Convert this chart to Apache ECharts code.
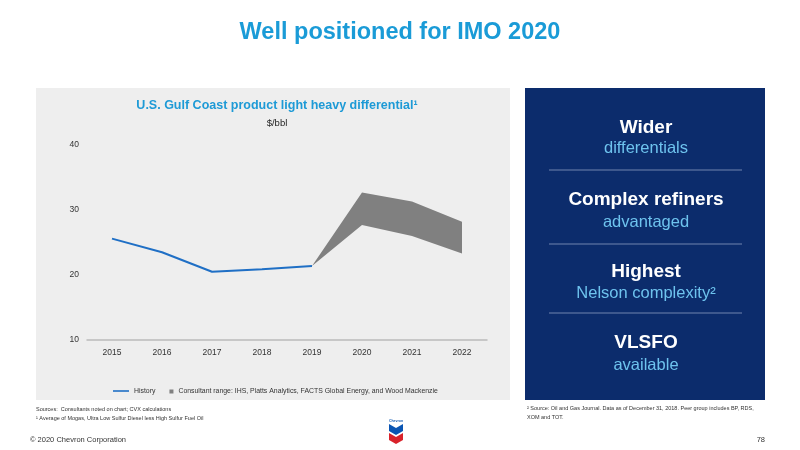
<!DOCTYPE html>
<html><head><meta charset="utf-8">
<script src="https://cdn.jsdelivr.net/npm/echarts@6/dist/echarts.min.js"></script>
<style>html,body{margin:0;padding:0;background:#fff}#c{width:800px;height:450px}</style>
</head><body><div id="c"></div>
<script>
const years = ['2015','2016','2017','2018','2019','2020','2021','2022'];
const history = [25.6, 23.5, 20.5, 20.9, 21.4, null, null, null];
const rangeLow = [null, null, null, null, 21.4, 27.7, 26.0, 23.3];
const rangeHigh = [null, null, null, null, 21.4, 32.7, 31.3, 28.2];
const yTicks = [10, 20, 30, 40];

const rangeDiff = rangeHigh.map((v, i) => v == null ? null : +(v - rangeLow[i]).toFixed(2));
const font = 'Arial, "Liberation Sans", sans-serif';
const navy = '#0c2c6c';
const lightBlue = '#6ec3ee';

const panelItems = [
  ['Wider', 'differentials', 128, 148],
  ['Complex refiners', 'advantaged', 200, 222],
  ['Highest', 'Nelson complexity²', 272, 293],
  ['VLSFO', 'available', 343, 365]
];
const graphics = [
  {type:'rect', shape:{x:36,y:88,width:474,height:312}, style:{fill:'#eeeeee'}, z:-10},
  {type:'rect', shape:{x:525,y:88,width:240,height:312}, style:{fill:navy}, z:-10},
  {type:'text', x:400, y:33, style:{text:'Well positioned for IMO 2020', font:'bold 23.5px '+font, fill:'#1a9bd7', align:'center', verticalAlign:'middle'}},
  {type:'text', x:277, y:106, style:{text:'U.S. Gulf Coast product light heavy differential¹', font:'bold 12.5px '+font, fill:'#1d9ad6', align:'center', verticalAlign:'middle'}},
  {type:'text', x:277, y:123, style:{text:'$/bbl', font:'9.5px '+font, fill:'#222', align:'center', verticalAlign:'middle'}},
  {type:'text', x:36, y:409, style:{text:'Sources:  Consultants noted on chart; CVX calculations', font:'5.5px '+font, fill:'#333', verticalAlign:'middle'}},
  {type:'text', x:36, y:418, style:{text:'¹ Average of Mogas, Ultra Low Sulfur Diesel less High Sulfur Fuel Oil', font:'5.5px '+font, fill:'#333', verticalAlign:'middle'}},
  {type:'text', x:527, y:408, style:{text:'² Source: Oil and Gas Journal. Data as of December 31, 2018. Peer group includes BP, RDS,', font:'5.5px '+font, fill:'#333', verticalAlign:'middle'}},
  {type:'text', x:527, y:417, style:{text:'XOM and TOT.', font:'5.5px '+font, fill:'#333', verticalAlign:'middle'}},
  {type:'text', x:30, y:440, style:{text:'© 2020 Chevron Corporation', font:'7.5px '+font, fill:'#333', verticalAlign:'middle'}},
  {type:'text', x:765, y:440, style:{text:'78', font:'7.5px '+font, fill:'#333', align:'right', verticalAlign:'middle'}},
  // Chevron logo
  {type:'text', x:396, y:421, style:{text:'Chevron', font:'bold 3.5px '+font, fill:'#1a5fb4', align:'center', verticalAlign:'middle'}},
  {type:'polygon', shape:{points:[[389,424],[396,428],[403,424],[403,431],[396,435],[389,431]]}, style:{fill:'#0a55b3'}},
  {type:'polygon', shape:{points:[[389,433],[396,437],[403,433],[403,440],[396,444],[389,440]]}, style:{fill:'#d9222a'}}
];
[170, 244, 313].forEach(y => graphics.push({type:'line', shape:{x1:549,y1:y,x2:742,y2:y}, style:{stroke:'#8a9cc0', lineWidth:0.8}}));
panelItems.forEach(([a,b,y1,y2]) => {
  graphics.push({type:'text', x:646, y:y1, style:{text:a, font:'bold 19px '+font, fill:'#ffffff', align:'center', verticalAlign:'middle'}});
  graphics.push({type:'text', x:646, y:y2, style:{text:b, font:'16.5px '+font, fill:lightBlue, align:'center', verticalAlign:'middle'}});
});

const chart = echarts.init(document.getElementById('c'));
chart.setOption({
  animation:false,
  textStyle:{fontFamily:font},
  graphic:graphics,
  grid:{left:87, right:313, top:145, bottom:110},
  legend:{
    left:108, top:382, itemGap:2, itemWidth:16, itemHeight:8,
    textStyle:{fontSize:6.9, color:'#333'},
    data:[
      {name:'History', icon:'path://M0,3.6L16,3.6L16,5.2L0,5.2Z', itemStyle:{color:'#1f6fc5'}},
      {name:'Consultant range: IHS, Platts Analytics, FACTS Global Energy, and Wood Mackenzie', icon:'path://M0,0L0.001,0ZM16,8L15.999,8ZM12,2.5L16,2.5L16,6.5L12,6.5Z', itemStyle:{color:'#808080'}}
    ]
  },
  xAxis:{
    type:'category', data:years, boundaryGap:true,
    axisLine:{lineStyle:{color:'#bbbbbb', width:1.5}}, axisTick:{show:false},
    axisLabel:{color:'#333', fontSize:8.5, margin:8}
  },
  yAxis:{
    type:'value', min:10, max:40, interval:10,
    axisLine:{show:false}, axisTick:{show:false}, splitLine:{show:false},
    axisLabel:{color:'#333', fontSize:8.5, margin:8, formatter:v => yTicks.includes(v) ? String(v) : ''}
  },
  series:[
    {name:'base', type:'line', stack:'range', data:rangeLow, symbol:'none', lineStyle:{opacity:0}, silent:true},
    {name:'Consultant range: IHS, Platts Analytics, FACTS Global Energy, and Wood Mackenzie', type:'line', stack:'range', data:rangeDiff, symbol:'none', lineStyle:{opacity:0}, areaStyle:{color:'#808080', opacity:1}, itemStyle:{color:'#808080'}},
    {name:'History', type:'line', data:history, symbol:'none', lineStyle:{color:'#1f6fc5', width:2}, itemStyle:{color:'#1f6fc5'}, z:5}
  ]
});
</script></body></html>
